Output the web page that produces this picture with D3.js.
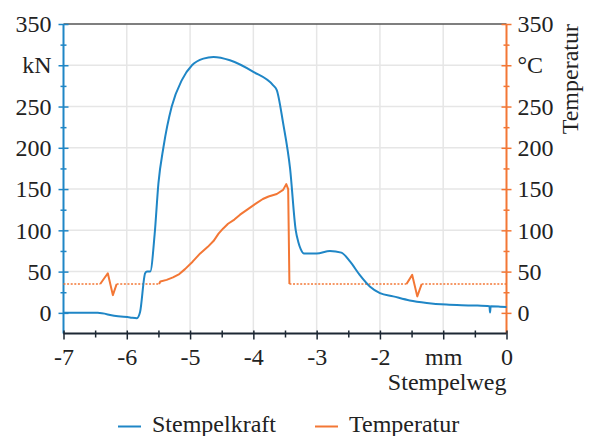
<!DOCTYPE html>
<html>
<head>
<meta charset="utf-8">
<script src="https://cdn.jsdelivr.net/npm/d3@7"></script>
<style>
  body { margin: 0; background: #fff; }
  text { font-family: "Liberation Serif", "Times New Roman", serif; fill: #222; }
</style>
</head>
<body>
<div id="chart"></div>
<script>
// Stempelkraft (kN) over Stempelweg (mm)
var kraftWeg = [-7, -6.46, -6.2, -5.95, -5.84, -5.79, -5.71, -5.68, -5.63, -5.56, -5.5, -5.42, -5.29,
  -5.13, -4.97, -4.79, -4.63, -4.37, -4.0, -3.69, -3.63, -3.53, -3.42, -3.33, -3.29, -3.25, -3.2, -3.0,
  -2.79, -2.61, -2.47, -2.32, -2.16, -2.0, -1.79, -1.53, -1.26, -0.95, -0.53, -0.27, -0.26, -0.25,
  -0.1, 0];
var kraftWert = [0, 0, -3.5, -5.5, -6.5, 1, 48, 50, 50, 95, 157, 201, 250,
  282, 300, 308, 310, 306, 292, 276, 270, 230, 175, 100, 86, 77, 72, 72,
  75, 73, 62, 46, 32, 24, 20, 15, 12, 10, 9, 8, 0.5, 8,
  7.5, 7];

// Temperatur (°C): gemessene Abschnitte, dazwischen Ersatzwert
var tempBasis = 35;
var tempZackeA = [[-6.42, 35], [-6.30, 48], [-6.22, 21.5], [-6.16, 35]];
var tempAnstieg = [[-5.49, 35], [-5.47, 38], [-5.37, 40], [-5.27, 43], [-5.17, 47], [-5.08, 53],
  [-4.96, 62], [-4.84, 72], [-4.72, 80], [-4.63, 87], [-4.55, 96], [-4.48, 102], [-4.40, 108],
  [-4.30, 113], [-4.21, 119], [-4.08, 126], [-3.95, 133], [-3.85, 138], [-3.76, 141], [-3.63, 144],
  [-3.53, 149], [-3.48, 156], [-3.45, 150], [-3.43, 35]];
var tempZackeB = [[-1.58, 35], [-1.49, 46], [-1.41, 20], [-1.34, 35]];

// axis ticks
var xTicks = [-7, -6, -5, -4, -3, -2, -1, 0];
var yTicks = [0, 50, 100, 150, 200, 250, 300, 350];

var blue = "#1f86c6", orange = "#f37735";
var W = 589, H = 436;
//margins (note: "top" is reserved on window)
var pLeft = 63.5, pRight = 506.5, pTop = 24, pBottom = 333.5;

var svg = d3.select("#chart").append("svg")
  .attr("width", W).attr("height", H);

var x = d3.scaleLinear().domain([-7, 0]).range([pLeft, pRight]);
var y = d3.scaleLinear().domain([-25, 350]).range([pBottom, pTop]);

//grid
svg.append("g").selectAll("line").data(yTicks.slice(1, -1)).enter().append("line")
  .attr("x1", pLeft).attr("x2", pRight)
  .attr("y1", function(d) { return y(d); }).attr("y2", function(d) { return y(d); })
  .attr("stroke", "#e6e6e6").attr("stroke-width", 1.5);
svg.append("g").selectAll("line").data(xTicks.slice(1, -1)).enter().append("line")
  .attr("y1", pTop).attr("y2", pBottom)
  .attr("x1", function(d) { return x(d); }).attr("x2", function(d) { return x(d); })
  .attr("stroke", "#e6e6e6").attr("stroke-width", 1.5);

//top frame line
svg.append("line").attr("x1", pLeft).attr("x2", pRight).attr("y1", pTop).attr("y2", pTop)
  .attr("stroke", "#555").attr("stroke-width", 1.5);

//axis helper
function styleAxis(g, color) {
  g.select(".domain").remove();
  g.selectAll(".tick line").attr("stroke", color).attr("stroke-width", 1.5);
  g.selectAll("text").attr("fill", "#222").style("font-size", "24px")
    .style("font-family", "Liberation Serif, serif");
}

var fmt = function(unit) {
  return function(d) { return d === 300 ? unit : String(d); };
};

// left axis, minor then major ticks
var gl = svg.append("g").attr("transform", "translate(" + pLeft + ",0)");
gl.call(d3.axisLeft(y).tickValues(d3.range(25, 351, 50)).tickSize(3).tickFormat(""));
gl.selectAll(".tick line").attr("x1", 3);
styleAxis(gl, blue);
var gl2 = svg.append("g").attr("transform", "translate(" + pLeft + ",0)");
gl2.call(d3.axisLeft(y).tickValues(yTicks).tickSize(5).tickPadding(7).tickFormat(fmt("kN")));
gl2.selectAll(".tick line").attr("x1", 5);
styleAxis(gl2, blue);
svg.append("line").attr("x1", pLeft).attr("x2", pLeft).attr("y1", pTop).attr("y2", pBottom)
  .attr("stroke", blue).attr("stroke-width", 2);

// right axis
var gr = svg.append("g").attr("transform", "translate(" + pRight + ",0)");
gr.call(d3.axisRight(y).tickValues(d3.range(25, 351, 50)).tickSize(3).tickFormat(""));
gr.selectAll(".tick line").attr("x1", -3);
styleAxis(gr, orange);
var gr2 = svg.append("g").attr("transform", "translate(" + pRight + ",0)");
gr2.call(d3.axisRight(y).tickValues(yTicks).tickSize(5).tickPadding(6).tickFormat(fmt("°C")));
gr2.selectAll(".tick line").attr("x1", -5);
styleAxis(gr2, orange);
svg.append("line").attr("x1", pRight).attr("x2", pRight).attr("y1", pTop).attr("y2", pBottom)
  .attr("stroke", orange).attr("stroke-width", 2);

// bottom axis
var gb = svg.append("g").attr("transform", "translate(0," + pBottom + ")");
gb.call(d3.axisBottom(x).tickValues(d3.range(-6.5, 0, 1)).tickSize(4).tickFormat(""));
gb.selectAll(".tick line").attr("y1", -3);
styleAxis(gb, "#1c2733");
var gb2 = svg.append("g").attr("transform", "translate(0," + pBottom + ")");
gb2.call(d3.axisBottom(x).tickValues(xTicks).tickSize(6).tickPadding(8)
  .tickFormat(function(d) { return d === -1 ? "mm" : String(d); }));
gb2.selectAll(".tick line").attr("y1", -3);
styleAxis(gb2, "#1c2733");
svg.append("line").attr("x1", pLeft).attr("x2", pRight).attr("y1", pBottom).attr("y2", pBottom)
  .attr("stroke", "#1c2733").attr("stroke-width", 2);

// axis titles
svg.append("text").attr("x", pRight).attr("y", 390).attr("text-anchor", "end")
  .style("font-size", "24px").text("Stempelweg");
svg.append("text").attr("transform", "translate(578," + pTop + ") rotate(-90)")
  .attr("text-anchor", "end").style("font-size", "24px").text("Temperatur");

// lines
var line = d3.line().x(function(d) { return x(d[0]); }).y(function(d) { return y(d[1]); });

var dotted = [
  [[-7, tempBasis], tempZackeA[0]],
  [tempZackeA[tempZackeA.length - 1], tempAnstieg[0]],
  [tempAnstieg[tempAnstieg.length - 1], tempZackeB[0]],
  [tempZackeB[tempZackeB.length - 1], [0, tempBasis]]
];
svg.append("g").selectAll("path").data(dotted).enter().append("path")
  .attr("d", line).attr("fill", "none").attr("stroke", orange)
  .attr("stroke-width", 1.6).attr("stroke-dasharray", "2,1.6");
svg.append("g").selectAll("path").data([tempZackeA, tempAnstieg, tempZackeB]).enter().append("path")
  .attr("d", line).attr("fill", "none").attr("stroke", orange)
  .attr("stroke-width", 2).attr("stroke-linejoin", "round");

var kraft = kraftWeg.map(function(d, i) { return [d, kraftWert[i]]; });
svg.append("path").datum(kraft)
  .attr("d", d3.line().x(function(d) { return x(d[0]); }).y(function(d) { return y(d[1]); })
    .curve(d3.curveMonotoneX))
  .attr("fill", "none").attr("stroke", blue)
  .attr("stroke-width", 2).attr("stroke-linejoin", "round");

// legend
var legend = [{name: "Stempelkraft", color: blue, x: 118}, {name: "Temperatur", color: orange, x: 315}];
var lg = svg.append("g").selectAll("g").data(legend).enter().append("g");
lg.append("line").attr("x1", function(d) { return d.x; }).attr("x2", function(d) { return d.x + 23; })
  .attr("y1", 426.5).attr("y2", 426.5).attr("stroke", function(d) { return d.color; }).attr("stroke-width", 2);
lg.append("text").attr("x", function(d) { return d.x + 34; }).attr("y", 431.5)
  .style("font-size", "24px").text(function(d) { return d.name; });
</script>
</body>
</html>
